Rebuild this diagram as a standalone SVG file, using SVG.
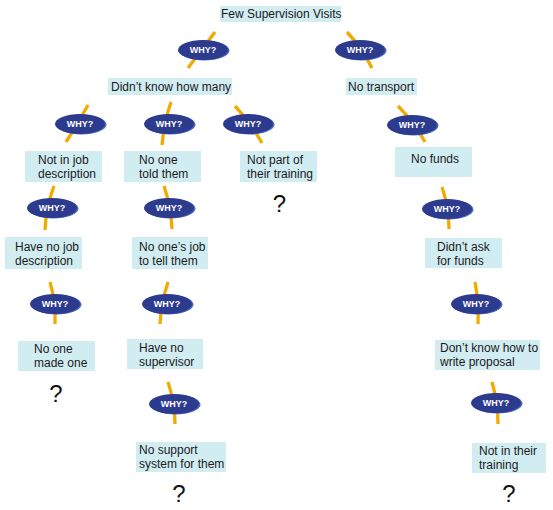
<svg xmlns="http://www.w3.org/2000/svg" width="553" height="510" viewBox="0 0 553 510">
<defs>
<style>
.box{fill:#D2EDF2}
.t{font-family:"Liberation Sans",Arial,sans-serif;font-size:12px;fill:#1a1a1a}
.q{font-family:"Liberation Sans",Arial,sans-serif;font-size:24px;fill:#111;text-anchor:middle}
.arc{fill:none;stroke:#F2A900;stroke-width:3.3;stroke-linecap:butt}
.rim{fill:#4A6CC0}
.why{fill:#2D3B8E}
.wt{font-family:"Liberation Sans",Arial,sans-serif;font-size:9px;font-weight:bold;fill:#fff;text-anchor:middle}
</style>
<g id="badge">
<ellipse class="rim" cx="1.5" cy="0.5" rx="25" ry="10"/>
<ellipse class="why" cx="0" cy="0" rx="25" ry="10"/>
<text class="wt" x="0" y="3.2">WHY?</text>
</g>
</defs>
<rect width="553" height="510" fill="#fff"/>

<g id="connectors">
<path class="arc" d="M215,32 Q203,48 188,68"/>
<path class="arc" d="M347,32 Q362,48 372,68"/>
<path class="arc" d="M88,105 Q78,124 66,142"/>
<path class="arc" d="M171,102 Q164,122 162,145"/>
<path class="arc" d="M235,106 Q250,122 262,143"/>
<path class="arc" d="M54,186 Q46,207 45,230"/>
<path class="arc" d="M164,186 Q171,207 172,229"/>
<path class="arc" d="M50,282 Q56,303 55,324"/>
<path class="arc" d="M168,282 Q161,303 160,324"/>
<path class="arc" d="M168,382 Q175,403 175,424"/>
<path class="arc" d="M398,106 Q414,122 425,142"/>
<path class="arc" d="M442,187 Q449,208 449,229"/>
<path class="arc" d="M475,282 Q479,303 478,324"/>
<path class="arc" d="M492,382 Q498,403 498,424"/>
</g>

<g id="why1"><use href="#badge" x="203" y="50"/></g>
<g id="why2"><use href="#badge" x="360" y="50"/></g>
<g id="why3"><use href="#badge" x="80" y="124"/></g>
<g id="why4"><use href="#badge" x="169" y="124"/></g>
<g id="why5"><use href="#badge" x="248" y="124"/></g>
<g id="why6"><use href="#badge" x="52" y="208"/></g>
<g id="why7"><use href="#badge" x="169" y="208"/></g>
<g id="why8"><use href="#badge" x="55" y="304"/></g>
<g id="why9"><use href="#badge" x="167" y="304"/></g>
<g id="why10"><use href="#badge" x="174" y="404"/></g>
<g id="why11"><use href="#badge" x="412" y="125"/></g>
<g id="why12"><use href="#badge" x="447" y="209"/></g>
<g id="why13"><use href="#badge" x="476" y="304"/></g>
<g id="why14"><use href="#badge" x="496" y="403"/></g>

<g id="n-root"><rect class="box" x="220" y="6" width="121" height="16"/><text class="t" x="221" y="18">Few Supervision Visits</text></g>
<g id="n-didnt-know"><rect class="box" x="108" y="78" width="124" height="17"/><text class="t" x="111" y="91">Didn’t know how many</text></g>
<g id="n-no-transport"><rect class="box" x="346" y="78" width="71" height="17"/><text class="t" x="348" y="91">No transport</text></g>

<g id="n-not-in-job"><rect class="box" x="25" y="151" width="77" height="31"/><text class="t" x="38" y="164">Not in job</text><text class="t" x="38" y="178">description</text></g>
<g id="n-no-one-told"><rect class="box" x="124" y="151" width="77" height="31"/><text class="t" x="139" y="164">No one</text><text class="t" x="139" y="178">told them</text></g>
<g id="n-not-part"><rect class="box" x="240" y="151" width="77" height="31"/><text class="t" x="247" y="164">Not part of</text><text class="t" x="247" y="178">their training</text></g>
<g id="n-no-funds"><rect class="box" x="395" y="147" width="77" height="30"/><text class="t" x="411" y="163">No funds</text></g>

<g id="n-have-no-job"><rect class="box" x="5" y="237" width="77" height="32"/><text class="t" x="15" y="251">Have no job</text><text class="t" x="15" y="265">description</text></g>
<g id="n-no-ones-job"><rect class="box" x="132" y="237" width="76" height="32"/><text class="t" x="139" y="251">No one’s job</text><text class="t" x="139" y="265">to tell them</text></g>
<g id="n-didnt-ask"><rect class="box" x="425" y="238" width="77" height="30"/><text class="t" x="437" y="251">Didn’t ask</text><text class="t" x="437" y="265">for funds</text></g>

<g id="n-no-one-made"><rect class="box" x="18" y="341" width="77" height="30"/><text class="t" x="34" y="353">No one</text><text class="t" x="34" y="367">made one</text></g>
<g id="n-no-supervisor"><rect class="box" x="127" y="339" width="76" height="30"/><text class="t" x="139" y="352">Have no</text><text class="t" x="139" y="366">supervisor</text></g>
<g id="n-dont-know"><rect class="box" x="435" y="340" width="105" height="30"/><text class="t" x="440" y="352">Don’t know how to</text><text class="t" x="440" y="366">write proposal</text></g>

<g id="n-no-support"><rect class="box" x="136" y="442" width="90" height="30"/><text class="t" x="139" y="454">No support</text><text class="t" x="139" y="468">system for them</text></g>
<g id="n-not-in-training"><rect class="box" x="472" y="443" width="74" height="30"/><text class="t" x="479" y="455">Not in their</text><text class="t" x="479" y="469">training</text></g>

<g id="q1"><text class="q" x="279.5" y="212">?</text></g>
<g id="q2"><text class="q" x="56" y="402">?</text></g>
<g id="q3"><text class="q" x="179" y="502">?</text></g>
<g id="q4"><text class="q" x="509" y="502">?</text></g>
</svg>
